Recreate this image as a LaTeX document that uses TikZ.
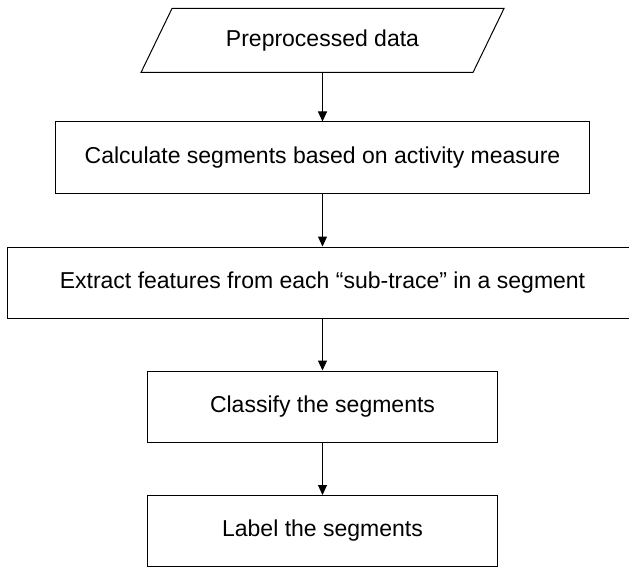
\documentclass[tikz,border=0pt]{standalone}
\usepackage{fontspec}
\setmainfont{Liberation Sans}
\usetikzlibrary{arrows.meta}
\begin{document}
\begin{tikzpicture}[x=1pt,y=-1pt,line width=1pt]
	\tikzset{io/.style = {shape=rectangle,minimum width=331pt,minimum height=63pt,inner sep=0pt}}
	\tikzset{process/.style = {shape=rectangle,draw,minimum height=71pt,inner sep=0pt}}
	\tikzset{edge/.style = {-{Triangle[length=10pt,width=9pt]}}}
	\useasboundingbox (0,0) rectangle (629,567);
	\fontsize{23}{28}\selectfont
	\node[io] (data) at (322.5,40.5) {Preprocessed data};
	\draw ([xshift=15.5pt]data.north west) -- ([xshift=15.5pt]data.north east)
		-- ([xshift=-15.5pt]data.south east) -- ([xshift=-15.5pt]data.south west) -- cycle;
	\node[process,minimum width=534pt] (calc) at (322.5,157.5) {Calculate segments based on activity measure};
	\node[process,minimum width=630pt] (extract) at (322.5,282.5) {Extract features from each “sub-trace” in a segment};
	\node[process,minimum width=350pt] (classify) at (322.5,406.5) {Classify the segments};
	\node[process,minimum width=350pt] (label) at (322.5,531) {Label the segments};
	\path[draw,edge] (data) edge (calc);
	\path[draw,edge] (calc) edge (extract);
	\path[draw,edge] (extract) edge (classify);
	\path[draw,edge] (classify) edge (label);
\end{tikzpicture}
\end{document}
